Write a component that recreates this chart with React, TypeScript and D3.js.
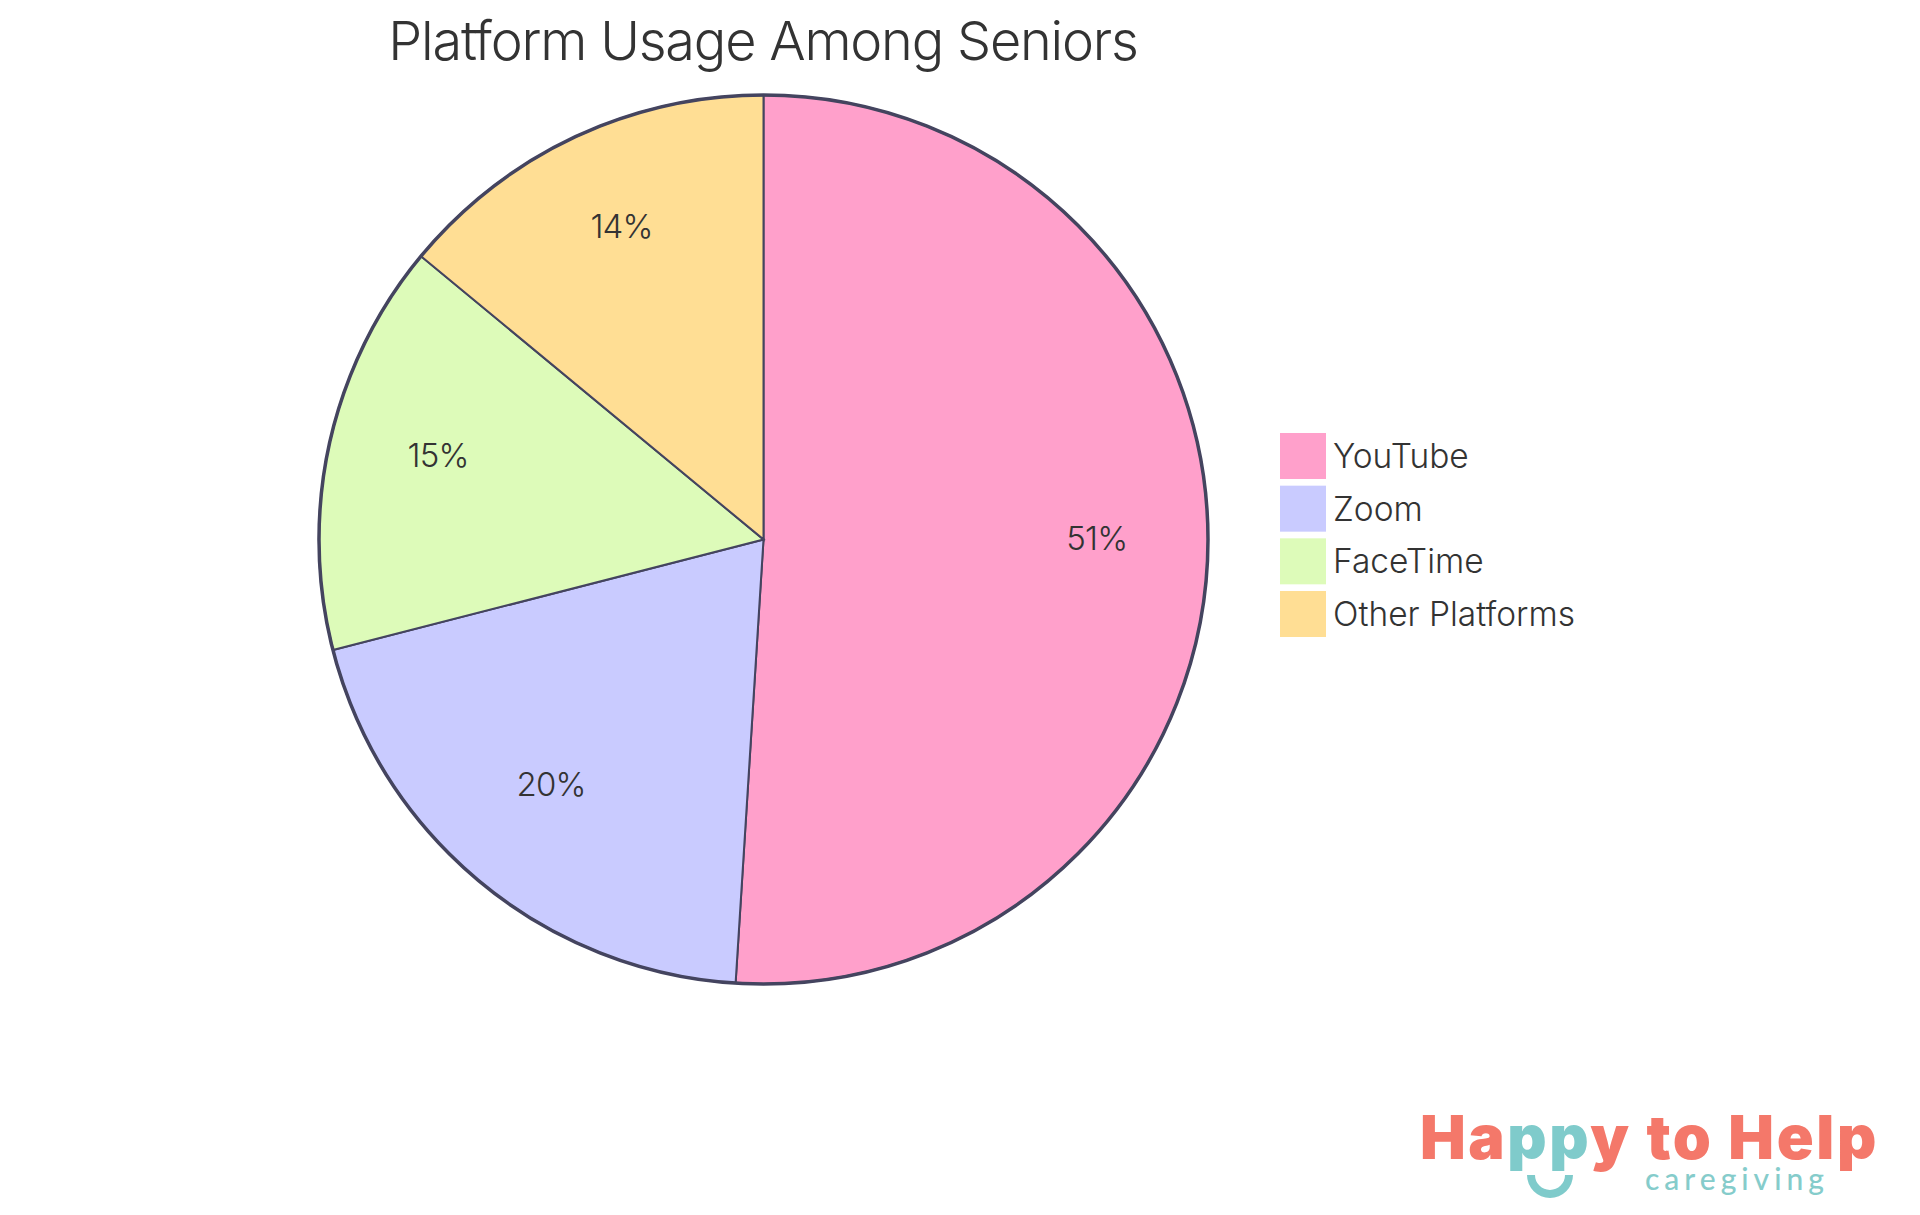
import * as d3 from "d3";
import { useEffect, useRef } from "react";

const platforms = ["YouTube", "Zoom", "FaceTime", "Other Platforms"];
const shares = [51, 20, 15, 14];
const sliceColors = ["#ffa0cb", "#c9cbff", "#ddfbb9", "#ffde94"];

const titleText = "Platform Usage Among Seniors";
const logoWords = ["Ha", "pp", "y to Help"];
const logoWordColors = ["#f4786a", "#7fcbcb", "#f4786a"];

const uiFont = "Inter, 'Noto Sans', sans-serif";

export default function App() {
    const svgRef = useRef<SVGSVGElement | null>(null);

    useEffect(() => {
        if (!svgRef.current) return;

        const totalW = 1920;
        const totalH = 1215;
        const cx = 763.5;
        const cy = 539.5;
        const radius = 444.5;

        const svg = d3.select(svgRef.current);
        svg.attr("width", totalW).attr("height", totalH);
        svg.selectAll("*").remove();

        svg.append("rect")
            .attr("width", totalW)
            .attr("height", totalH)
            .attr("fill", "#ffffff");

        svg.append("text")
            .attr("x", 763)
            .attr("y", 60)
            .attr("text-anchor", "middle")
            .attr("font-family", uiFont)
            .attr("font-weight", 300)
            .attr("font-size", 54)
            .attr("letter-spacing", -1.2)
            .attr("fill", "#333333")
            .text(titleText);

        const pie = d3.pie<number>().sort(null).value((d) => d);
        const arc = d3.arc<d3.PieArcDatum<number>>().innerRadius(0).outerRadius(radius);
        const labelArc = d3
            .arc<d3.PieArcDatum<number>>()
            .innerRadius(radius * 0.75)
            .outerRadius(radius * 0.75);

        const g = svg.append("g").attr("transform", `translate(${cx},${cy})`);
        const slices = pie(shares);

        g.selectAll("path.slice")
            .data(slices)
            .join("path")
            .attr("class", "slice")
            .attr("d", arc)
            .attr("fill", (d, i) => sliceColors[i])
            .attr("stroke", "#44445f")
            .attr("stroke-width", 2);

        g.append("circle")
            .attr("r", radius)
            .attr("fill", "none")
            .attr("stroke", "#44445f")
            .attr("stroke-width", 3.5);

        g.selectAll("text.pct")
            .data(slices)
            .join("text")
            .attr("class", "pct")
            .attr("transform", (d) => `translate(${labelArc.centroid(d)})`)
            .attr("y", -12)
            .attr("text-anchor", "middle")
            .attr("dominant-baseline", "central")
            .attr("font-family", uiFont)
            .attr("font-weight", 300)
            .attr("font-size", 33)
            .attr("letter-spacing", -0.8)
            .attr("fill", "#333333")
            .text((d) => `${d.data}%`);

        const legendY = d3
            .scalePoint<string>()
            .domain(platforms)
            .range([433, 591]);

        const legend = svg
            .selectAll("g.legend")
            .data(platforms)
            .join("g")
            .attr("class", "legend")
            .attr("transform", (d) => `translate(1280,${legendY(d)})`);

        legend
            .append("rect")
            .attr("width", 46)
            .attr("height", 46)
            .attr("fill", (d, i) => sliceColors[i]);

        legend
            .append("text")
            .attr("x", 53)
            .attr("y", 35)
            .attr("font-family", uiFont)
            .attr("font-weight", 300)
            .attr("font-size", 33.5)
            .attr("fill", "#333333")
            .text((d) => d);

        // logo in the bottom right corner
        const logo = svg
            .append("text")
            .attr("x", 1420)
            .attr("y", 1159)
            .attr("font-family", "Inter, Lato, sans-serif")
            .attr("font-weight", 900)
            .attr("font-size", 61)
            .attr("letter-spacing", 2.6);
        logoWords.forEach((w, i) => {
            logo.append("tspan").attr("fill", logoWordColors[i]).text(w);
        });

        svg.append("text")
            .attr("x", 1645)
            .attr("y", 1190)
            .attr("font-family", "Lato, Inter, sans-serif")
            .attr("font-weight", 500)
            .attr("font-size", 30)
            .attr("letter-spacing", 5)
            .attr("fill", "#85cccb")
            .text("caregiving");

        const smile = d3.arc()({
            innerRadius: 15,
            outerRadius: 23,
            startAngle: Math.PI / 2,
            endAngle: (3 * Math.PI) / 2,
        });
        svg.append("path")
            .attr("transform", "translate(1550,1175)")
            .attr("d", smile)
            .attr("fill", "#7fcbcb");
    }, []);

    return (
        <svg
            ref={svgRef}
            style={{ position: "absolute", left: 0, top: 0, display: "block" }}
        />
    );
}
